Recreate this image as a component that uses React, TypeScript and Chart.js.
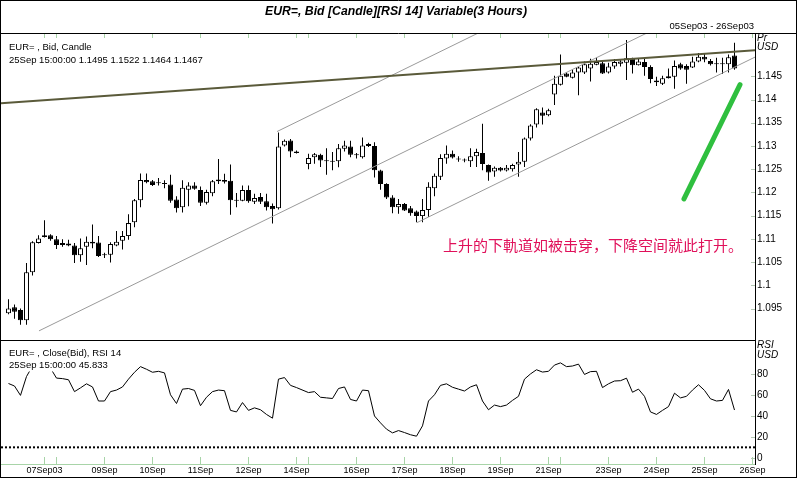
import React, { useEffect, useRef } from 'react';
import { Chart, registerables } from 'chart.js';

Chart.register(...registerables);

const FONT = '"Liberation Sans", Arial, sans-serif';
const CJK_FONT = '"Noto Sans CJK SC", sans-serif';

// ---- Data (3-hour bars, index 0 = 05Sep03 06:00, last = 25Sep03 15:00) ----
const opens: (number | null)[] = [
  1.0940, 1.0953, 1.0947, 1.0925, 1.1028, 1.1091, 1.1104, 1.1108, 1.1099, 1.1091,
  1.1090, 1.1086, 1.1065, 1.1083, 1.1094, 1.1092, 1.1067, 1.1066, 1.1086, 1.1096,
  1.1106, 1.1136, 1.1183, 1.1227, 1.1224, 1.1221, 1.1219, 1.1217, 1.1185, 1.1168,
  1.1206, 1.1215, 1.1205, 1.1178, 1.1198, 1.1224, 1.1227, 1.1225, 1.1182, 1.1182,
  1.1205, 1.1180, 1.1190, 1.1181, 1.1171, 1.1166, 1.1301, 1.1312, 1.1288, null,
  1.1261, 1.1276, 1.1281, 1.1267, 1.1266, 1.1267, 1.1294, 1.1299, 1.1281, 1.1276,
  1.1304, 1.1300, 1.1247, 1.1218, 1.1189, 1.1168, 1.1175, 1.1166, 1.1159, 1.1149,
  1.1162, 1.1209, 1.1234, 1.1273, 1.1283, 1.1272, 1.1270, 1.1267, 1.1278, 1.1285,
  1.1259, 1.1245, 1.1253, 1.1247, 1.1250, 1.1260, 1.1266, 1.1316, 1.1346, 1.1372,
  1.1366, 1.1411, 1.1432, 1.1456, 1.1447, 1.1458, 1.1458, 1.1467, 1.1475, 1.1478,
  1.1458, 1.1471, 1.1477, 1.1479, 1.1488, 1.1474, 1.1481, 1.1470, 1.1441, 1.1434,
  1.1446, 1.1449, 1.1476, 1.1472, 1.1469, 1.1482, 1.1492, 1.1483, 1.1477, 1.1476,
  1.1476, 1.1495,
];
const highs: (number | null)[] = [
  1.0970, 1.0959, 1.0950, 1.1048, 1.1095, 1.1108, 1.1140, 1.1110, 1.1106, 1.1099,
  1.1098, 1.1091, 1.1101, 1.1105, 1.1131, 1.1106, 1.1070, 1.1093, 1.1117, 1.1117,
  1.1153, 1.1186, 1.1241, 1.1241, 1.1227, 1.1231, 1.1226, 1.1238, 1.1192, 1.1226,
  1.1222, 1.1222, 1.1213, 1.1206, 1.1227, 1.1272, 1.1240, 1.1260, 1.1199, 1.1215,
  1.1215, 1.1197, 1.1199, 1.1197, 1.1176, 1.1329, 1.1314, 1.1315, 1.1290, null,
  1.1283, 1.1285, 1.1283, 1.1295, 1.1287, 1.1304, 1.1311, 1.1311, 1.1285, 1.1318,
  1.1307, 1.1308, 1.1249, 1.1220, 1.1194, 1.1186, 1.1177, 1.1171, 1.1161, 1.1186,
  1.1222, 1.1241, 1.1282, 1.1301, 1.1290, 1.1278, 1.1273, 1.1295, 1.1294, 1.1348,
  1.1260, 1.1256, 1.1255, 1.1259, 1.1262, 1.1287, 1.1318, 1.1347, 1.1381, 1.1383,
  1.1380, 1.1451, 1.1497, 1.1459, 1.1465, 1.1472, 1.1482, 1.1488, 1.1490, 1.1483,
  1.1479, 1.1487, 1.1487, 1.1528, 1.1490, 1.1488, 1.1488, 1.1474, 1.1449, 1.1451,
  1.1467, 1.1484, 1.1479, 1.1476, 1.1492, 1.1500, 1.1500, 1.1487, 1.1490, 1.1490,
  1.1497, 1.1522,
];
const lows: (number | null)[] = [
  1.0938, 1.0928, 1.0915, 1.0915, 1.1021, 1.1090, 1.1103, 1.1096, 1.1078, 1.1083,
  1.1084, 1.1048, 1.1051, 1.1044, 1.1080, 1.1061, 1.1059, 1.1049, 1.1084, 1.1077,
  1.1098, 1.1125, 1.1168, 1.1220, 1.1214, 1.1215, 1.1209, 1.1178, 1.1157, 1.1157,
  1.1170, 1.1206, 1.1171, 1.1174, 1.1192, 1.1218, 1.1219, 1.1152, 1.1168, 1.1181,
  1.1178, 1.1175, 1.1175, 1.1161, 1.1133, 1.1163, 1.1299, 1.1276, 1.1284, null,
  1.1250, 1.1262, 1.1255, 1.1238, 1.1248, 1.1254, 1.1288, 1.1276, 1.1273, 1.1273,
  1.1298, 1.1232, 1.1206, 1.1186, 1.1155, 1.1154, 1.1160, 1.1150, 1.1136, 1.1136,
  1.1147, 1.1192, 1.1227, 1.1262, 1.1273, 1.1266, 1.1265, 1.1255, 1.1255, 1.1248,
  1.1225, 1.1234, 1.1245, 1.1245, 1.1245, 1.1234, 1.1255, 1.1312, 1.1340, 1.1346,
  1.1364, 1.1388, 1.1430, 1.1448, 1.1445, 1.1409, 1.1455, 1.1439, 1.1474, 1.1455,
  1.1456, 1.1466, 1.1471, 1.1442, 1.1456, 1.1473, 1.1451, 1.1435, 1.1429, 1.1431,
  1.1445, 1.1423, 1.1464, 1.1434, 1.1468, 1.1480, 1.1480, 1.1473, 1.1458, 1.1455,
  1.1458, 1.1464,
];
const closes: (number | null)[] = [
  1.0950, 1.0943, 1.0925, 1.1028, 1.1093, 1.1101, 1.1108, 1.1099, 1.1087, 1.1087,
  1.1086, 1.1065, 1.1080, 1.1094, 1.1090, 1.1063, 1.1065, 1.1089, 1.1094, 1.1106,
  1.1134, 1.1183, 1.1227, 1.1222, 1.1216, 1.1220, 1.1218, 1.1182, 1.1166, 1.1210,
  1.1215, 1.1208, 1.1178, 1.1201, 1.1224, 1.1228, 1.1223, 1.1183, 1.1184, 1.1205,
  1.1181, 1.1188, 1.1180, 1.1168, 1.1164, 1.1299, 1.1311, 1.1288, 1.1285, null,
  1.1274, 1.1282, 1.1269, 1.1268, 1.1267, 1.1295, 1.1301, 1.1281, 1.1280, 1.1301,
  1.1300, 1.1248, 1.1218, 1.1189, 1.1168, 1.1175, 1.1161, 1.1155, 1.1149, 1.1162,
  1.1212, 1.1236, 1.1274, 1.1283, 1.1275, 1.1271, 1.1269, 1.1278, 1.1287, 1.1261,
  1.1243, 1.1253, 1.1247, 1.1253, 1.1259, 1.1266, 1.1316, 1.1344, 1.1379, 1.1365,
  1.1377, 1.1434, 1.1451, 1.1449, 1.1458, 1.1469, 1.1476, 1.1477, 1.1481, 1.1456,
  1.1471, 1.1481, 1.1482, 1.1489, 1.1474, 1.1482, 1.1470, 1.1444, 1.1437, 1.1446,
  1.1450, 1.1472, 1.1467, 1.1464, 1.1482, 1.1492, 1.1486, 1.1476, 1.1476, 1.1477,
  1.1491, 1.1467,
];
const rsi14: (number | null)[] = [
  71.3, 68.9, 59.9, 78.0, 88.0, 90.0, 91.0, 86.0, 76.5, 76.0,
  74.9, 63.5, 67.1, 71.0, 68.0, 54.5, 54.5, 63.5, 65.0, 68.0,
  75.5, 82.1, 87.5, 85.0, 82.1, 83.0, 81.5, 60.5, 52.1, 65.9,
  66.5, 64.7, 50.0, 58.1, 63.5, 65.0, 64.4, 45.5, 44.0, 53.0,
  45.5, 47.9, 46.1, 41.6, 38.0, 75.5, 77.0, 69.5, 67.4, null,
  62.6, 63.5, 58.1, 57.5, 56.9, 66.5, 68.0, 56.0, 54.5, 65.0,
  64.4, 40.1, 33.5, 27.5, 23.9, 26.1, 24.2, 22.1, 20.7, 30.6,
  54.5, 60.5, 69.5, 71.0, 67.7, 65.9, 64.1, 68.0, 70.1, 54.5,
  46.1, 50.6, 49.1, 50.6, 55.1, 59.0, 75.5, 80.5, 84.5, 82.3,
  83.0, 89.0, 91.1, 87.5, 88.1, 89.9, 80.0, 82.7, 83.0, 67.4,
  71.0, 73.7, 74.0, 76.4, 62.9, 65.9, 59.0, 44.0, 41.6, 45.5,
  49.1, 62.0, 57.5, 59.0, 65.0, 70.1, 64.7, 56.6, 54.5, 55.1,
  65.6, 45.833,
];

const dayTicks = [6, 8, 16, 24, 32, 40, 48, 50, 58, 66, 74, 82, 90, 92, 100, 108, 116, 124];
const dayLabels = ['07Sep03', '', '09Sep', '10Sep', '11Sep', '12Sep', '14Sep', '', '16Sep', '17Sep', '18Sep', '19Sep', '21Sep', '', '23Sep', '24Sep', '25Sep', '26Sep'];
const priceTicks = [1.095, 1.1, 1.105, 1.11, 1.115, 1.12, 1.125, 1.13, 1.135, 1.14, 1.145];
const rsiTicks = [0, 20, 40, 60, 80];
const rsiLevel = 10;

// drawn lines, [bar index, price]
const resistanceLine = [[-1.25, 1.1392], [124.42, 1.1506]];
const channelA = [[5.08, 1.0902], [107, 1.1547]];
const channelB = [[44.75, 1.1331], [80, 1.1554]];
const channelC = [[68.08, 1.1135], [125, 1.1495]];
const arrowLine = [[112.58, 1.1186], [121.92, 1.1432]];

const X_MIN = -1.25;
const X_MAX = 124.4167;
const PRICE_MIN = 1.08974;
const PRICE_MAX = 1.15432;
const RSI_MIN = -6.0;
const RSI_MAX = 105.4;

const titleText = 'EUR=, Bid [Candle][RSI 14] Variable(3 Hours)';
const rangeText = '05Sep03 - 26Sep03';
const noteText = '上升的下軌道如被击穿，下降空间就此打开。';

const last = opens.length - 1;
const priceLegend1 = 'EUR= , Bid, Candle';
const priceLegend2 = `25Sep 15:00:00 ${opens[last]!.toFixed(4)} ${highs[last]!.toFixed(4)} ${lows[last]!.toFixed(4)} ${closes[last]!.toFixed(4)}`;
const rsiLegend1 = 'EUR= , Close(Bid), RSI 14';
const rsiLegend2 = `25Sep 15:00:00 ${rsi14[last]!.toFixed(3)}`;

const candleIdx = opens.map((_, i) => i).filter((i) => opens[i] !== null);
const bodyData = candleIdx.map((i) => ({ x: i, y: [opens[i], closes[i]] }));
const bodyColors = candleIdx.map((i) => (closes[i]! >= opens[i]! ? '#ffffff' : '#000000'));
const wickData = candleIdx.map((i) => ({ x: i, y: [lows[i], highs[i]] }));
const toPts = (arr: number[][]) => arr.map(([x, y]) => ({ x, y }));
const rsiData = rsi14.map((v, i) => ({ x: i, y: v })).filter((p) => p.y !== null);

function hLine(ctx: CanvasRenderingContext2D, x1: number, x2: number, y: number) {
  ctx.beginPath();
  ctx.moveTo(x1, y);
  ctx.lineTo(x2, y);
  ctx.stroke();
}
function vLine(ctx: CanvasRenderingContext2D, x: number, y1: number, y2: number) {
  ctx.beginPath();
  ctx.moveTo(x, y1);
  ctx.lineTo(x, y2);
  ctx.stroke();
}

const priceDecor = {
  id: 'priceDecor',
  afterDraw(chart: any) {
    const { ctx, chartArea: a, scales } = chart;
    const xs = scales.x;
    const ys = scales.y;
    ctx.save();
    // header
    ctx.fillStyle = '#000';
    ctx.textAlign = 'center';
    ctx.textBaseline = 'alphabetic';
    ctx.font = `italic bold 13px ${FONT}`;
    ctx.fillText(titleText, 396, 15, 262);
    ctx.textAlign = 'right';
    ctx.textBaseline = 'middle';
    ctx.font = `9.5px ${FONT}`;
    ctx.fillText(rangeText, 754, 26.5);
    // legend
    ctx.textAlign = 'left';
    ctx.fillText(priceLegend1, 9, 47.5);
    ctx.fillText(priceLegend2, 9, 60);
    // axis header
    ctx.font = `italic 10px ${FONT}`;
    ctx.fillText('Pr', 757, 38);
    ctx.fillText('USD', 757, 47.5);
    // annotation
    ctx.fillStyle = '#e0105a';
    ctx.font = `15px ${CJK_FONT}`;
    ctx.fillText(noteText, 443, 245);
    // frame lines
    ctx.strokeStyle = '#000';
    ctx.lineWidth = 1;
    hLine(ctx, 0, 797, 0.5);
    hLine(ctx, 0, 797, 33.5);
    hLine(ctx, 0, 756, 340.5);
    vLine(ctx, 0.5, 0, 341);
    vLine(ctx, 796.5, 0, 341);
    vLine(ctx, 755.5, 33, 341);
    // day ticks on top
    ctx.strokeStyle = '#a8d4a8';
    dayTicks.forEach((d) => {
      const x = Math.floor(xs.getPixelForValue(d)) + 0.5;
      vLine(ctx, x, 34, 38);
    });
    // y tick marks
    ctx.strokeStyle = '#b4c8b4';
    priceTicks.forEach((v) => {
      const y = Math.round(ys.getPixelForValue(v)) + 0.5;
      hLine(ctx, 751, 755, y);
    });
    ctx.restore();
  },
};

const rsiDecor = {
  id: 'rsiDecor',
  afterDatasetsDraw(chart: any) {
    const { ctx } = chart;
    ctx.save();
    ctx.font = `9.5px ${FONT}`;
    ctx.textAlign = 'left';
    ctx.textBaseline = 'middle';
    ctx.fillStyle = '#fff';
    const w1 = ctx.measureText(rsiLegend1).width;
    const w2 = ctx.measureText(rsiLegend2).width;
    ctx.fillRect(8, 6, w1 + 2, 13.5);
    ctx.fillRect(8, 19, w2 + 2, 12.5);
    ctx.fillStyle = '#000';
    ctx.fillText(rsiLegend1, 9, 13);
    ctx.fillText(rsiLegend2, 9, 25.7);
    ctx.restore();
  },
  afterDraw(chart: any) {
    const { ctx, scales } = chart;
    const xs = scales.x;
    const ys = scales.y;
    ctx.save();
    ctx.fillStyle = '#000';
    ctx.font = `italic 10px ${FONT}`;
    ctx.textAlign = 'left';
    ctx.textBaseline = 'middle';
    ctx.fillText('RSI', 757, 5.5);
    ctx.fillText('USD', 757, 15.5);
    ctx.strokeStyle = '#000';
    ctx.lineWidth = 1;
    vLine(ctx, 0.5, 0, 138);
    vLine(ctx, 796.5, 0, 138);
    hLine(ctx, 0, 797, 137.5);
    vLine(ctx, 755.5, 0, 125);
    ctx.strokeStyle = '#a8d4a8';
    hLine(ctx, 1, 755, 124.5);
    dayTicks.forEach((d) => {
      const x = Math.floor(xs.getPixelForValue(d)) + 0.5;
      vLine(ctx, x, 117, 124);
    });
    ctx.strokeStyle = '#b4c8b4';
    rsiTicks.forEach((v) => {
      const y = Math.round(ys.getPixelForValue(v)) + 0.5;
      hLine(ctx, 751, 755, y);
    });
    ctx.restore();
  },
};

export default function App() {
  const priceRef = useRef<HTMLCanvasElement>(null);
  const rsiRef = useRef<HTMLCanvasElement>(null);

  useEffect(() => {
    document.body.style.margin = '0';
    Chart.defaults.font.family = FONT;
    Chart.defaults.color = '#000';

    const priceChart = new Chart(priceRef.current as HTMLCanvasElement, {
      type: 'bar',
      data: {
        datasets: [
          {
            type: 'line',
            data: toPts(arrowLine),
            borderColor: '#2fbf3f',
            borderWidth: 5,
            borderCapStyle: 'round',
            pointRadius: 0,
            order: -3,
          } as any,
          {
            type: 'line',
            data: toPts(resistanceLine),
            borderColor: '#5a5a3a',
            borderWidth: 2,
            pointRadius: 0,
            order: -2,
          } as any,
          {
            type: 'line',
            data: toPts(channelA),
            borderColor: '#9a9a9a',
            borderWidth: 1,
            pointRadius: 0,
            order: -1,
          } as any,
          {
            type: 'line',
            data: toPts(channelB),
            borderColor: '#9a9a9a',
            borderWidth: 1,
            pointRadius: 0,
            order: -1,
          } as any,
          {
            type: 'line',
            data: toPts(channelC),
            borderColor: '#9a9a9a',
            borderWidth: 1,
            pointRadius: 0,
            order: -1,
          } as any,
          {
            type: 'bar',
            data: bodyData,
            backgroundColor: bodyColors,
            borderColor: '#000',
            borderWidth: 1,
            borderSkipped: false,
            barThickness: 5,
            minBarLength: 1,
            inflateAmount: 0,
            grouped: false,
            order: 0,
          } as any,
          {
            type: 'bar',
            data: wickData,
            backgroundColor: '#000',
            borderWidth: 0,
            barThickness: 1,
            inflateAmount: 0,
            grouped: false,
            order: 1,
          } as any,
        ],
      },
      options: {
        animation: false,
        responsive: false,
        maintainAspectRatio: false,
        events: [],
        layout: { padding: { top: 33, left: 1, right: 0, bottom: 1 } },
        plugins: { legend: { display: false }, tooltip: { enabled: false } },
        scales: {
          x: { type: 'linear', min: X_MIN, max: X_MAX, display: false, offset: false },
          y: {
            type: 'linear',
            position: 'right',
            min: PRICE_MIN,
            max: PRICE_MAX,
            grid: { display: false, drawTicks: false },
            border: { display: false },
            afterBuildTicks: (s: any) => {
              s.ticks = priceTicks.map((value) => ({ value }));
            },
            afterFit: (s: any) => {
              s.width = 42;
            },
            ticks: {
              padding: 2,
              color: '#000',
              font: { family: FONT, size: 10 },
              callback: (v: any) => String(Number(Number(v).toFixed(3))),
            },
          },
        },
      } as any,
      plugins: [priceDecor],
    });

    const rsiChart = new Chart(rsiRef.current as HTMLCanvasElement, {
      type: 'line',
      data: {
        datasets: [
          {
            data: rsiData,
            borderColor: '#000',
            borderWidth: 1,
            pointRadius: 0,
            spanGaps: true,
            tension: 0,
          },
          {
            data: [
              { x: X_MIN, y: rsiLevel },
              { x: X_MAX, y: rsiLevel },
            ],
            borderColor: '#000',
            borderWidth: 2,
            borderDash: [2, 2],
            pointRadius: 0,
          },
        ],
      },
      options: {
        animation: false,
        responsive: false,
        maintainAspectRatio: false,
        events: [],
        layout: { padding: { top: 0, left: 1, right: 0, bottom: 1 } },
        plugins: { legend: { display: false }, tooltip: { enabled: false } },
        scales: {
          x: {
            type: 'linear',
            min: X_MIN,
            max: X_MAX,
            offset: false,
            grid: { display: false, drawTicks: false },
            border: { display: false },
            afterBuildTicks: (s: any) => {
              s.ticks = dayTicks.filter((_, k) => dayLabels[k] !== '').map((value) => ({ value }));
            },
            afterFit: (s: any) => {
              s.height = 13;
            },
            ticks: {
              autoSkip: false,
              maxRotation: 0,
              minRotation: 0,
              padding: 1,
              color: '#000',
              font: { family: FONT, size: 9 },
              callback: (v: any) => {
                const k = dayTicks.indexOf(Number(v));
                return k >= 0 ? dayLabels[k] : '';
              },
            },
          },
          y: {
            type: 'linear',
            position: 'right',
            min: RSI_MIN,
            max: RSI_MAX,
            grid: { display: false, drawTicks: false },
            border: { display: false },
            afterBuildTicks: (s: any) => {
              s.ticks = rsiTicks.map((value) => ({ value }));
            },
            afterFit: (s: any) => {
              s.width = 42;
            },
            ticks: {
              padding: 2,
              color: '#000',
              font: { family: FONT, size: 10 },
            },
          },
        },
      } as any,
      plugins: [rsiDecor],
    });

    return () => {
      priceChart.destroy();
      rsiChart.destroy();
    };
  }, []);

  return (
    <div style={{ position: 'fixed', left: 0, top: 0, width: 797, height: 478, background: '#fff' }}>
      <canvas
        ref={priceRef}
        width={797}
        height={341}
        style={{ position: 'absolute', left: 0, top: 0, width: 797, height: 341 }}
      />
      <canvas
        ref={rsiRef}
        width={797}
        height={138}
        style={{ position: 'absolute', left: 0, top: 340, width: 797, height: 138 }}
      />
    </div>
  );
}
